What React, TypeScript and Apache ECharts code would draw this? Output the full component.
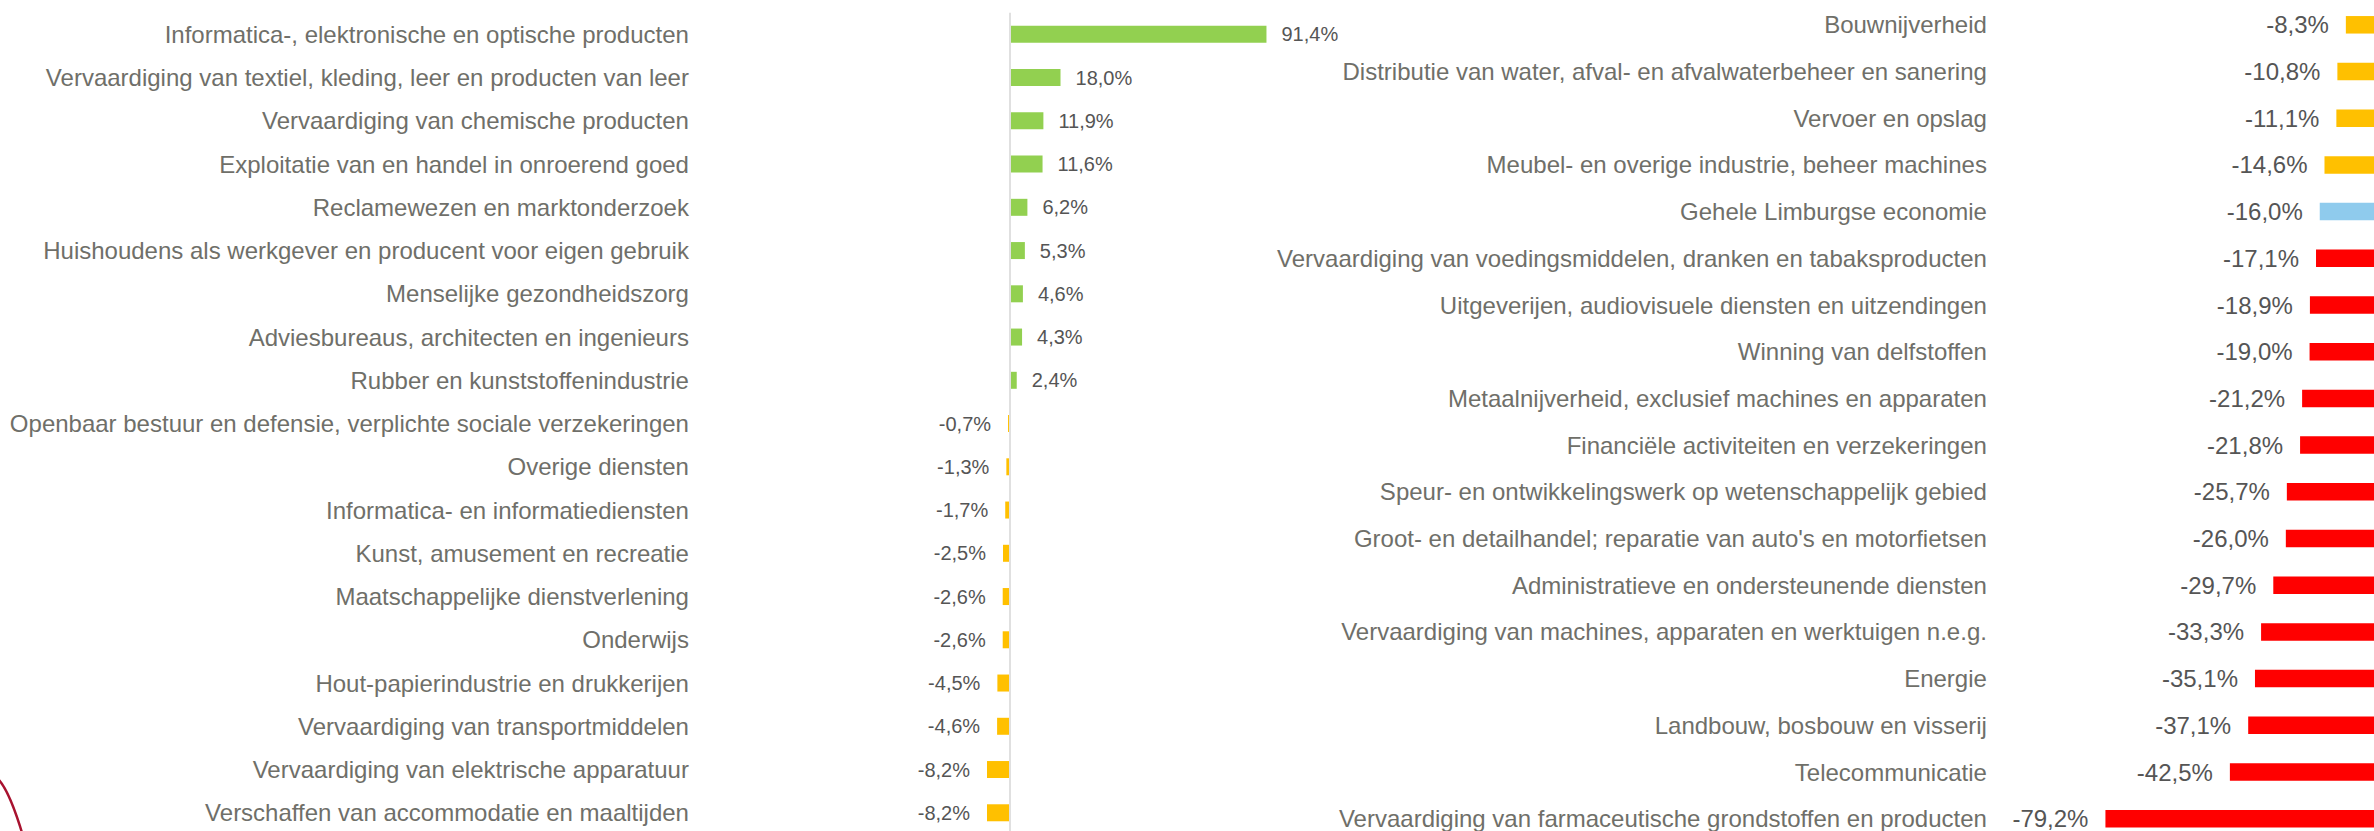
import React, { useEffect, useRef } from "react";
import * as echarts from "echarts";

const leftCategories = [
  "Informatica-, elektronische en optische producten",
  "Vervaardiging van textiel, kleding, leer en producten van leer",
  "Vervaardiging van chemische producten",
  "Exploitatie van en handel in onroerend goed",
  "Reclamewezen en marktonderzoek",
  "Huishoudens als werkgever en producent voor eigen gebruik",
  "Menselijke gezondheidszorg",
  "Adviesbureaus, architecten en ingenieurs",
  "Rubber en kunststoffenindustrie",
  "Openbaar bestuur en defensie, verplichte sociale verzekeringen",
  "Overige diensten",
  "Informatica- en informatiediensten",
  "Kunst, amusement en recreatie",
  "Maatschappelijke dienstverlening",
  "Onderwijs",
  "Hout-papierindustrie en drukkerijen",
  "Vervaardiging van transportmiddelen",
  "Vervaardiging van elektrische apparatuur",
  "Verschaffen van accommodatie en maaltijden",
];
const leftValues = [91.4, 18.0, 11.9, 11.6, 6.2, 5.3, 4.6, 4.3, 2.4, -0.7, -1.3, -1.7, -2.5, -2.6, -2.6, -4.5, -4.6, -8.2, -8.2];

const rightCategories = [
  "Bouwnijverheid",
  "Distributie van water, afval- en afvalwaterbeheer en sanering",
  "Vervoer en opslag",
  "Meubel- en overige industrie, beheer machines",
  "Gehele Limburgse economie",
  "Vervaardiging van voedingsmiddelen, dranken en tabaksproducten",
  "Uitgeverijen, audiovisuele diensten en uitzendingen",
  "Winning van delfstoffen",
  "Metaalnijverheid, exclusief machines en apparaten",
  "Financiële activiteiten en verzekeringen",
  "Speur- en ontwikkelingswerk op wetenschappelijk gebied",
  "Groot- en detailhandel; reparatie van auto's en motorfietsen",
  "Administratieve en ondersteunende diensten",
  "Vervaardiging van machines, apparaten en werktuigen n.e.g.",
  "Energie",
  "Landbouw, bosbouw en visserij",
  "Telecommunicatie",
  "Vervaardiging van farmaceutische grondstoffen en producten",
];
const rightValues = [-8.3, -10.8, -11.1, -14.6, -16.0, -17.1, -18.9, -19.0, -21.2, -21.8, -25.7, -26.0, -29.7, -33.3, -35.1, -37.1, -42.5, -79.2];
const totalCategory = "Gehele Limburgse economie";

const GREEN = "#92d050";
const YELLOW = "#ffc000";
const RED = "#ff0000";
const BLUE = "#8fcbed";
const CAT_COLOR = "#6f6f69";
const VAL_COLOR = "#555555";
const FONT = "'Liberation Sans', Arial, sans-serif";

const fmt = (v: number) => v.toFixed(1).replace(".", ",") + "%";

export default function App() {
  const ref = useRef<HTMLDivElement>(null);
  useEffect(() => {
    if (!ref.current) return;
    const chart = echarts.init(ref.current, undefined, { renderer: "svg" });

    const leftData = leftValues.map((v) => ({
      value: v,
      itemStyle: { color: v >= 0 ? GREEN : YELLOW },
      label: {
        position: v >= 0 ? "right" : "left",
        distance: v >= 0 ? 15 : 17,
      },
    }));
    const rightData = rightValues.map((v, i) => ({
      value: v,
      itemStyle: {
        color: rightCategories[i] === totalCategory ? BLUE : v > -15 ? YELLOW : RED,
      },
    }));

    const catLabel = {
      color: CAT_COLOR,
      fontSize: 24,
      fontFamily: FONT,
      align: "right" as const,
    };

    chart.setOption({
      animation: false,
      backgroundColor: "#ffffff",
      grid: [
        { left: 981.94, top: 12.7, width: 308.66, height: 821.7 },
        { left: 2034.9, top: 1.45, width: 341.8, height: 840.6 },
      ],
      xAxis: [
        {
          gridIndex: 0,
          type: "value",
          min: -10,
          max: 100,
          show: false,
        },
        {
          gridIndex: 1,
          type: "value",
          min: -100,
          max: 0,
          show: false,
        },
      ],
      yAxis: [
        {
          gridIndex: 0,
          type: "category",
          data: leftCategories,
          inverse: true,
          axisLine: { show: false },
          axisTick: { show: false },
          splitLine: { show: false },
          axisLabel: { ...catLabel, margin: 293, interval: 0 },
        },
        {
          gridIndex: 1,
          type: "category",
          data: rightCategories,
          inverse: true,
          axisLine: { show: false },
          axisTick: { show: false },
          splitLine: { show: false },
          axisLabel: { ...catLabel, margin: 48, interval: 0 },
        },
      ],
      series: [
        {
          type: "bar",
          xAxisIndex: 0,
          yAxisIndex: 0,
          barWidth: 17,
          data: leftData,
          label: {
            show: true,
            color: VAL_COLOR,
            fontSize: 20,
            fontFamily: FONT,
            formatter: (p: any) => fmt(p.value),
          },
          markLine: {
            silent: true,
            symbol: "none",
            label: { show: false },
            lineStyle: { color: "#e0e0e0", width: 2, type: "solid" },
            data: [{ xAxis: 0 }],
          },
        },
        {
          type: "bar",
          xAxisIndex: 1,
          yAxisIndex: 1,
          barWidth: 17.5,
          data: rightData,
          label: {
            show: true,
            position: "left",
            distance: 17,
            color: VAL_COLOR,
            fontSize: 24,
            fontFamily: FONT,
            formatter: (p: any) => fmt(p.value),
          },
        },
      ],
      graphic: [
        {
          type: "bezierCurve",
          shape: { x1: -3, y1: 778, cpx1: 9, cpy1: 789, x2: 23, y2: 836 },
          style: { stroke: "#a8122f", lineWidth: 2.5, fill: "none" },
          silent: true,
        },
      ],
    });

    return () => chart.dispose();
  }, []);

  return (
    <div
      ref={ref}
      style={{ position: "fixed", left: 0, top: 0, width: 2374, height: 845, background: "#fff" }}
    />
  );
}
